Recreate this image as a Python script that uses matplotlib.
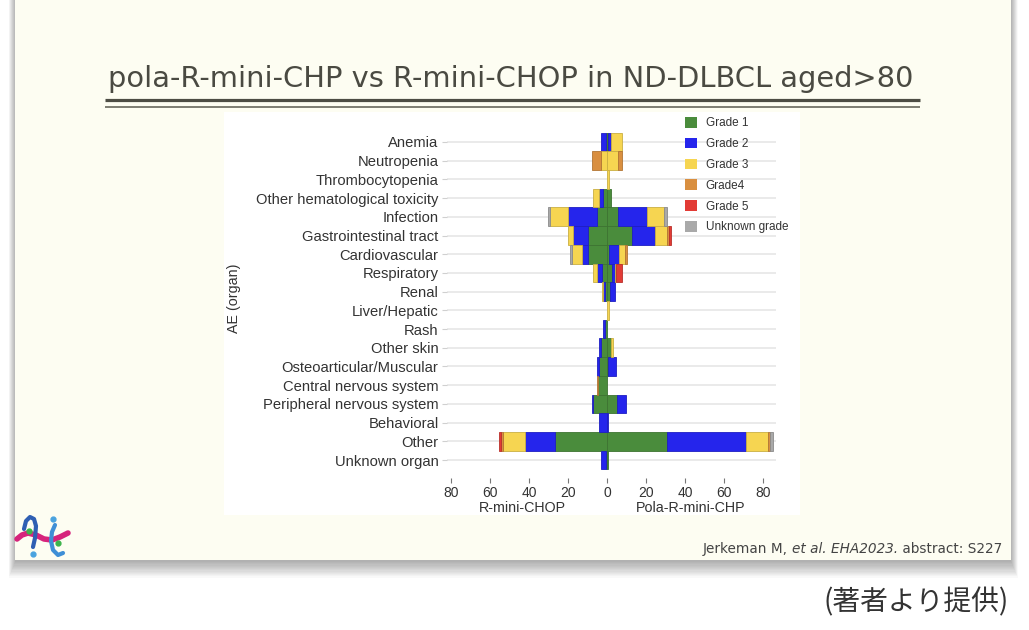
import matplotlib
matplotlib.use("Agg")
import matplotlib.pyplot as plt
import matplotlib.transforms as mtransforms
from matplotlib.patches import Rectangle, Patch
from matplotlib.offsetbox import TextArea, HPacker, AnnotationBbox
import numpy as np

# ---------------------------------------------
# data
# ---------------------------------------------
organs = [
    "Anemia", "Neutropenia", "Thrombocytopenia", "Other hematological toxicity",
    "Infection", "Gastrointestinal tract", "Cardiovascular", "Respiratory",
    "Renal", "Liver/Hepatic", "Rash", "Other skin", "Osteoarticular/Muscular",
    "Central nervous system", "Peripheral nervous system", "Behavioral",
    "Other", "Unknown organ",
]
grades = ["Grade 1", "Grade 2", "Grade 3", "Grade4", "Grade 5", "Unknown grade"]

# R-mini-CHOP (left side), % per grade
chop_g1 = [0.5, 0, 0, 2.0, 5.3, 9.6, 9.6, 2.7, 1.0, 0, 1.0, 3.0, 4.0, 4.6, 7.0, 0, 26.7, 0.7]
chop_g2 = [2.5, 0, 0, 2.0, 14.5, 7.7, 3.4, 2.6, 0.8, 0, 1.0, 1.2, 1.0, 0, 0.9, 4.0, 15.4, 2.3]
chop_g3 = [0, 3.0, 0, 3.0, 9.4, 2.5, 5.1, 1.7, 0.5, 0, 0, 0, 0, 0, 0, 0, 11.0, 0]
chop_g4 = [0, 4.5, 0, 0, 0, 0, 0, 0, 0, 0, 0, 0, 0, 0.7, 0, 0, 1.0, 0]
chop_g5 = [0, 0, 0, 0, 0, 0, 0, 0, 0, 0, 0, 0, 0, 0, 0, 0, 1.0, 0]
chop_unk = [0, 0, 0, 0, 0.9, 0, 0.8, 0, 0, 0, 0, 0, 0, 0, 0, 0, 0, 0]

# Pola-R-mini-CHP (right side)
pola_g1 = [0.8, 0, 0, 1.9, 5.8, 12.7, 1.2, 2.4, 1.5, 0, 0, 1.9, 0.5, 0, 5.0, 0, 31.0, 0.5]
pola_g2 = [1.5, 0, 0, 0, 14.6, 11.9, 5.0, 1.7, 2.6, 0, 0, 0, 4.0, 0, 4.8, 0.7, 40.3, 0]
pola_g3 = [5.6, 5.5, 1.0, 0, 9.0, 6.0, 3.1, 0.5, 0, 1.0, 0, 1.0, 0, 0, 0, 0, 11.3, 0]
pola_g4 = [0, 2.0, 0, 0, 0, 1.0, 0.8, 0, 0, 0, 0, 0, 0, 0, 0, 0, 1.0, 0]
pola_g5 = [0, 0, 0, 0, 0, 1.5, 0, 2.9, 0, 0, 0, 0, 0, 0, 0, 0, 0, 0]
pola_unk = [0, 0, 0, 0, 1.4, 0, 0, 0, 0, 0, 0, 0, 0, 0, 0, 0, 1.5, 0]

xticks = [-80, -60, -40, -20, 0, 20, 40, 60, 80]

# ---------------------------------------------
# style
# ---------------------------------------------
GRADE_COLORS = ["#4a8c3c", "#2525ec", "#f6d551", "#d98f40", "#e23b35", "#a9a9a9"]
SLIDE_BG = "#fdfdf2"
TEXT_DARK = "#4a4a42"
W, H = 1029, 630

plt.rcParams.update({
    "font.family": ["Liberation Sans", "DejaVu Sans"],
    "axes.linewidth": 0,
})


def darker(c, f=0.82):
    r, g, b = matplotlib.colors.to_rgb(c)
    return (r * f, g * f, b * f)


fig = plt.figure(figsize=(W / 100, H / 100), dpi=100)

# ---------------------------------------------
# slide backdrop (pixel coordinates, y down)
# ---------------------------------------------
bg = fig.add_axes([0, 0, 1, 1], zorder=0)
bg.set_xlim(0, W)
bg.set_ylim(H, 0)
bg.axis("off")

for i in range(14):
    bg.add_patch(Rectangle((15 - i * 0.5, -5), 996 + i * 1.0, 565 + i * 1.2 + 2,
                           color="black", alpha=0.022, lw=0))
bg.add_patch(Rectangle((15, -5), 996, 565, color=SLIDE_BG, lw=0))
bg.add_patch(Rectangle((224, 112), 576, 403, color="white", lw=0))

bg.text(511, 87, "pola-R-mini-CHP vs R-mini-CHOP in ND-DLBCL aged>80",
        family="DejaVu Sans", fontsize=20.8, color=TEXT_DARK,
        ha="center", va="baseline")
bg.plot([105, 920], [99.5, 99.5], color="#4d4d44", lw=2.3, solid_capstyle="butt")
bg.plot([105, 920], [106.7, 106.7], color="#5a5a50", lw=1.1, solid_capstyle="butt")

# small logo, bottom left
bg.plot([17, 22, 28, 36, 44, 52, 60, 68], [539, 535, 533, 535, 539, 540, 537, 533],
        color="#d6247c", lw=4, solid_capstyle="round")
bg.plot([24, 26, 30, 34, 36, 35, 33], [529, 521, 517, 519, 526, 538, 547],
        color="#2f5fb3", lw=3, solid_capstyle="round")
bg.plot([55, 52, 51, 53, 58, 63], [525, 532, 541, 550, 555, 553],
        color="#3f8fd6", lw=3, solid_capstyle="round")
bg.plot([33, 53], [554, 519], "o", color="#4aa3df", ms=3.5)
bg.plot([29, 58], [531, 543], "o", color="#3cb44b", ms=3.5)

# citation with italic part
cite_props = dict(family="DejaVu Sans", size=9.8, color="#444444")
parts = [
    TextArea("Jerkeman M, ", textprops=cite_props),
    TextArea("et al. EHA2023.", textprops=dict(cite_props, style="italic")),
    TextArea(" abstract: S227", textprops=cite_props),
]
cite = HPacker(children=parts, align="baseline", pad=0, sep=0)
bg.add_artist(AnnotationBbox(cite, (1002, 549), xycoords="data",
                             box_alignment=(1, 0.5), frameon=False, pad=0))

bg.text(1009, 602, "(著者より提供)", family=["Noto Sans CJK JP", "DejaVu Sans"],
        fontsize=20, color="#333333", ha="right", va="center")

# ---------------------------------------------
# butterfly chart
# ---------------------------------------------
ax = fig.add_axes([447 / W, (H - 478) / H, 329 / W, 360 / H], zorder=2)
ax.patch.set_alpha(0)

y = np.arange(len(organs))
left_series = [chop_g1, chop_g2, chop_g3, chop_g4, chop_g5, chop_unk]
right_series = [pola_g1, pola_g2, pola_g3, pola_g4, pola_g5, pola_unk]

for sign, series in ((-1, left_series), (1, right_series)):
    cum = np.zeros(len(organs))
    for vals, col in zip(series, GRADE_COLORS):
        vals = np.asarray(vals, dtype=float)
        m = vals > 0
        ax.barh(y[m], sign * vals[m], left=sign * cum[m], height=1.0,
                color=col, edgecolor=darker(col), linewidth=0.6, zorder=3)
        cum += vals

ax.set_xlim(-82, 86.7)
ax.set_ylim(17.96, -1.28)
ax.set_yticks(y)
ax.set_yticklabels(organs)
ax.set_xticks(xticks)
ax.set_xticklabels([str(abs(t)) for t in xticks])

ax.set_axisbelow(True)
ax.yaxis.grid(True, color="#e8e8e8", lw=1.3)
ax.xaxis.grid(False)
for s in ax.spines.values():
    s.set_visible(False)

ax.tick_params(axis="y", length=3.6, color="#d0d0d0", pad=2.5,
               labelsize=10.6, labelcolor="#333333")
ax.tick_params(axis="x", length=3.6, color="#777777", pad=2,
               labelsize=10, labelcolor="#333333")

trans = mtransforms.blended_transform_factory(ax.transData, ax.transAxes)
ax.text(-43.5, -0.083, "R-mini-CHOP", transform=trans, ha="center", va="center",
        fontsize=10.3, color="#333333")
ax.text(43, -0.083, "Pola-R-mini-CHP", transform=trans, ha="center", va="center",
        fontsize=10.3, color="#333333")

fig.text(234 / W, 1 - 298 / H, "AE (organ)", rotation=90, ha="center", va="center",
         fontsize=10.3, color="#333333")

handles = [Patch(facecolor=c, edgecolor="none") for c in GRADE_COLORS]
fig.legend(handles, grades, loc="upper left", bbox_to_anchor=(685 / W, 1 - 117 / H),
           frameon=False, borderpad=0, borderaxespad=0, fontsize=8.5,
           handlelength=1.0, handleheight=1.0, handletextpad=0.75,
           labelspacing=0.72, labelcolor="#333333")

fig.savefig("out.png", dpi=100, facecolor="white")
